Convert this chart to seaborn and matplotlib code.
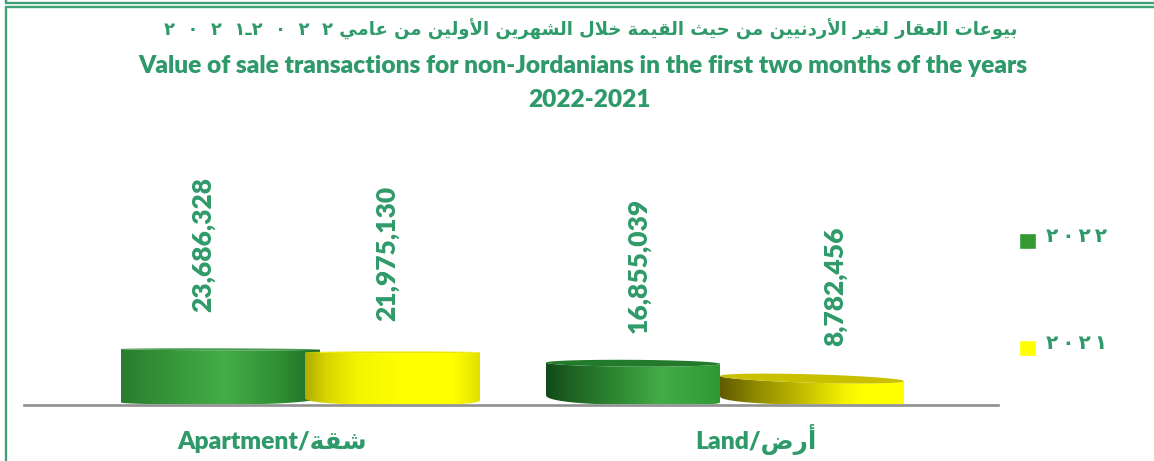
import re
import numpy as np
import pandas as pd
import seaborn as sns
import matplotlib
matplotlib.use("Agg")
import matplotlib.pyplot as plt
from matplotlib.colors import LinearSegmentedColormap
from matplotlib.patches import Polygon
from matplotlib.lines import Line2D
from matplotlib.transforms import ScaledTranslation

# ---------- data ----------
cat_en = ["Apartment", "Land"]
cat_ar = ["شقة", "أرض"]
years = ["٢\u2009٠\u2009٢\u2009٢", "٢\u2009٠\u2009٢\u2009١"]
values_2022 = [23686328, 16855039]
values_2021 = [21975130, 8782456]
title_ar = "بيوعات العقار لغير الأردنيين من حيث القيمة خلال الشهرين الأولين من عامي ٢  ٠  ٢  ٢ـ٢  ٠  ٢  ١"
title_en1 = "Value of sale transactions for non-Jordanians in the first two months of the years"
title_en2 = "2022-2021"

# ---------- Arabic shaping (matplotlib has none) ----------
FORMS = {  # isolated, final, initial, medial
    "ا": "\uFE8D\uFE8E", "أ": "\uFE83\uFE84", "د": "\uFEA9\uFEAA", "ر": "\uFEAD\uFEAE",
    "و": "\uFEED\uFEEE", "ة": "\uFE93\uFE94",
    "ب": "\uFE8F\uFE90\uFE91\uFE92", "ت": "\uFE95\uFE96\uFE97\uFE98", "ث": "\uFE99\uFE9A\uFE9B\uFE9C",
    "ح": "\uFEA1\uFEA2\uFEA3\uFEA4", "خ": "\uFEA5\uFEA6\uFEA7\uFEA8", "ش": "\uFEB5\uFEB6\uFEB7\uFEB8",
    "ض": "\uFEBD\uFEBE\uFEBF\uFEC0",
    "ع": "\uFEC9\uFECA\uFECB\uFECC", "غ": "\uFECD\uFECE\uFECF\uFED0", "ق": "\uFED5\uFED6\uFED7\uFED8",
    "ل": "\uFEDD\uFEDE\uFEDF\uFEE0", "م": "\uFEE1\uFEE2\uFEE3\uFEE4", "ن": "\uFEE5\uFEE6\uFEE7\uFEE8",
    "ه": "\uFEE9\uFEEA\uFEEB\uFEEC", "ي": "\uFEF1\uFEF2\uFEF3\uFEF4",
}
LAM = {"ا": "\uFEFB\uFEFC", "أ": "\uFEF7\uFEF8"}


def shape(text):
    """Return visual-order text using presentation forms; digit runs stay left to right."""
    out = []
    chars = list(text)
    i = 0
    joins_prev = False
    while i < len(chars):
        c = chars[i]
        if c not in FORMS:
            out.append(c)
            joins_prev = False
            i += 1
            continue
        nxt = chars[i + 1] if i + 1 < len(chars) else ""
        if c == "ل" and nxt in LAM:
            out.append(LAM[nxt][1 if joins_prev else 0])
            joins_prev = False
            i += 2
            continue
        forms = FORMS[c]
        joins_next = len(forms) == 4 and nxt in FORMS
        if joins_prev and joins_next:
            out.append(forms[3])
        elif joins_prev:
            out.append(forms[1])
        elif joins_next:
            out.append(forms[2])
        else:
            out.append(forms[0])
        joins_prev = joins_next
        i += 1
    visual = "".join(reversed(out))
    return re.sub(r"[٠-٩](?:[ \u2009]*[٠-٩])*", lambda m: m.group(0)[::-1], visual)


# ---------- style ----------
GREEN = "#2F9A69"
WEIGHT = "heavy"
sns.set_theme(style="white")
plt.rcParams["font.family"] = ["Lato", "DejaVu Sans"]
W, H = 1154, 461
fig = plt.figure(figsize=(W / 100, H / 100), dpi=100)
fig.patch.set_facecolor("white")
AX_L, AX_R, AX_BASE, AX_TOP = 24, 998, 404.5, 124.5
ax = fig.add_axes([AX_L / W, 1 - AX_BASE / H, (AX_R - AX_L) / W, (AX_BASE - AX_TOP) / H])
PX_PER_M = 2.33
ymax = (AX_BASE - AX_TOP) / PX_PER_M * 1e6

labels = [f"{e}/{shape(a)}" for e, a in zip(cat_en, cat_ar)]
year_labels = [shape(y) for y in years]
df = pd.DataFrame({
    "category": labels * 2,
    "year": [year_labels[0]] * 2 + [year_labels[1]] * 2,
    "value": values_2022 + values_2021,
})
sns.barplot(data=df, x="category", y="value", hue="year", hue_order=year_labels,
            palette={year_labels[0]: "#339933", year_labels[1]: "#FFFF00"},
            saturation=1, ax=ax, width=0.8, dodge=True, legend=True)
ax.set_xlim(-0.5, 1.5)
ax.set_ylim(0, ymax)


def xu(px):
    return (px - AX_L) / (AX_R - AX_L) * 2 - 0.5


def yu(px):
    return px / PX_PER_M * 1e6


# per bar geometry, in pixels: order = Apt22, Land22, Apt21, Land21 (seaborn container order)
GEOM = [
    dict(x0=121, x1=320, zo=3, lift=0, ry=1.0, tilt=0.3, rise=(2, 7), flat=(200, 230), top="#4a9a50",
         stops=[(0, "#2A7A2E"), (.12, "#2F8A33"), (.52, "#44AD47"), (.8, "#2F8E33"), (1, "#1F6C26")]),
    dict(x0=546, x1=720, zo=4, lift=2, ry=3.4, tilt=0.6, rise=(9, 2), flat=(620, 700), top="#237A2B",
         stops=[(0, "#114A18"), (.1, "#1B5C20"), (.42, "#2F8A33"), (.66, "#43AC46"), (1, "#2F9A35")]),
    dict(x0=305, x1=480, zo=4, lift=1, ry=0.9, tilt=0, rise=(6, 4), flat=(370, 440), top="#E8E800",
         stops=[(0, "#B0AC00"), (.12, "#D8D400"), (.3, "#F4F400"), (.55, "#FFFF00"), (.85, "#FFFF00"), (1, "#E0E000")]),
    dict(x0=720, x1=904, zo=3, lift=5.5, ry=4.2, tilt=2.6, rise=(8, 1), flat=(805, 895), top="#C8C000",
         stops=[(0, "#5F5A00"), (.18, "#8C8600"), (.42, "#BDB600"), (.68, "#F4F200"), (.78, "#FFFF00"), (1, "#FFFF00")]),
]

bars = [p for c in ax.containers for p in c]
tops_px = []
for bar, g in zip(bars, GEOM):
    h = bar.get_height()
    bar.set_x(xu(g["x0"]))
    bar.set_width(xu(g["x1"]) - xu(g["x0"]))
    bar.set_alpha(0)
    h_px = h / 1e6 * PX_PER_M + g["lift"]
    tops_px.append(h_px)
    xs = np.linspace(g["x0"], g["x1"], 160)
    cx, rx = (g["x0"] + g["x1"]) / 2, (g["x1"] - g["x0"]) / 2
    u = (xs - cx) / rx
    arc = np.sqrt(np.clip(1 - u ** 2, 0, 1))
    fl, fr = g["flat"]
    ul = np.clip((fl - xs) / (fl - g["x0"]), 0, 1)
    ur = np.clip((xs - fr) / (g["x1"] - fr), 0, 1)
    bottom = g["rise"][0] * (1 - np.sqrt(1 - ul ** 2)) + g["rise"][1] * (1 - np.sqrt(1 - ur ** 2))
    mid = h_px - g["tilt"] * u
    front = mid - g["ry"] * arc
    back = mid + g["ry"] * arc
    cmap = LinearSegmentedColormap.from_list("bar", g["stops"])
    im = ax.imshow(np.linspace(0, 1, 256)[None, :], cmap=cmap, vmin=0, vmax=1, aspect="auto",
                   extent=(xu(g["x0"]), xu(g["x1"]), 0, yu(h_px + 8)), zorder=g["zo"],
                   interpolation="bilinear")
    body = np.r_[np.c_[xu(xs), yu(bottom)], np.c_[xu(xs[::-1]), yu(front[::-1])]]
    clip = Polygon(body, closed=True, transform=ax.transData, fc="none", ec="none")
    ax.add_patch(clip)
    im.set_clip_path(clip)
    cap = np.r_[np.c_[xu(xs), yu(front)], np.c_[xu(xs[::-1]), yu(back[::-1])]]
    ax.add_patch(Polygon(cap, closed=True, fc=g["top"], ec="none", zorder=g["zo"]))

ax.set_xlim(-0.5, 1.5)
ax.set_ylim(0, ymax)

# value labels: rotated, anchored on the bar they belong to
LABEL_PX = [(203, 37), (639, 30), (387.5, 31), (835, 33)]
for bar, top_px, (lx, gap) in zip(bars, tops_px, LABEL_PX):
    ax.annotate(f"{int(bar.get_height()):,}", xy=(xu(lx), yu(top_px)), xytext=(0, gap * 0.72),
                textcoords="offset points", rotation=90, ha="center", va="bottom",
                fontsize=19, fontweight=WEIGHT, color=GREEN, zorder=6, family="Lato")

# axes dressing
sns.despine(ax=ax, left=True, top=True, right=True)
ax.spines["bottom"].set_color("#8F8F8F")
ax.spines["bottom"].set_linewidth(1.9)
ax.spines["bottom"].set_zorder(7)
ax.set_xlabel("")
ax.set_ylabel("")
ax.set_yticks([])
ax.tick_params(axis="x", length=0, pad=32)
for t, dx in zip(ax.get_xticklabels(), (5, 1)):
    t.set_fontweight(WEIGHT)
    t.set_fontsize(17.7)
    t.set_color(GREEN)
    t.set_va("baseline")
    t.set_transform(t.get_transform() + ScaledTranslation(dx / 100, 0, fig.dpi_scale_trans))

# legend
leg = ax.get_legend()
handles, texts = leg.legend_handles, [t.get_text() for t in leg.get_texts()]
leg.remove()
LEG_FS = 14.5
leg = fig.legend(handles, texts, loc="center left", bbox_to_anchor=(1019 / W, 1 - 290 / H),
                 frameon=False, fontsize=LEG_FS, handlelength=0.84, handleheight=0.84,
                 handletextpad=0.5, labelspacing=4.35, borderpad=0, borderaxespad=0)
for t in leg.get_texts():
    t.set_color(GREEN)
    t.set_fontweight("bold")
    t.set_family("DejaVu Sans")
for h in leg.legend_handles:
    h.set_alpha(1)
    h.set_y(-5)

# titles
fig.text(591 / W, 1 - 29 / H, shape(title_ar), ha="center", va="center", fontsize=13,
         fontweight="bold", color=GREEN, family="DejaVu Sans")
fig.text(582.5 / W, 1 - 66 / H, title_en1, ha="center", va="center", fontsize=17.65,
         fontweight=WEIGHT, color=GREEN, family="Lato")
fig.text(589.5 / W, 1 - 100 / H, title_en2, ha="center", va="center", fontsize=17.65,
         fontweight=WEIGHT, color=GREEN, family="Lato")

# frame lines
for xs_, ys_ in [((5.5, W), (3, 3)), ((5.5, W), (7, 7)), ((6, 6), (7, H)), ((6, 6), (0, 3))]:
    fig.add_artist(Line2D([x / W for x in xs_], [1 - y / H for y in ys_], color="#3FA274", lw=1.7,
                          transform=fig.transFigure))

fig.savefig("out.png", dpi=100, facecolor="white")
